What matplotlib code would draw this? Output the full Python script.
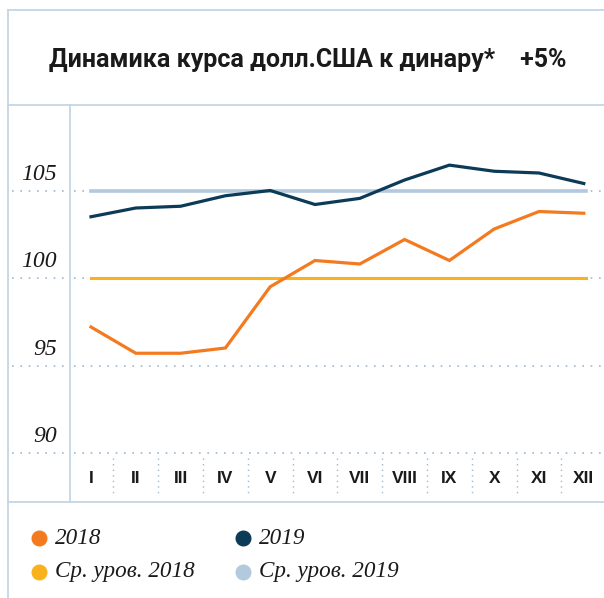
import matplotlib
matplotlib.use("Agg")
import matplotlib.pyplot as plt
from matplotlib.lines import Line2D
import numpy as np

# data
months = ["I", "II", "III", "IV", "V", "VI", "VII", "VIII", "IX", "X", "XI", "XII"]
usd_2018 = [97.2, 95.7, 95.7, 96.0, 99.5, 101.0, 100.8, 102.2, 101.0, 102.8, 103.8, 103.7]
usd_2019 = [103.5, 104.0, 104.1, 104.7, 105.0, 104.2, 104.55, 105.6, 106.45, 106.1, 106.0, 105.4]
avg_2018 = 100.0
avg_2019 = 105.0
y_ticks = [90, 95, 100, 105]
title = "Динамика курса долл.США к динару*    +5%"
legend_labels = ["2018", "2019", "Ср. уров. 2018", "Ср. уров. 2019"]

c_2018 = "#F47A20"
c_2019 = "#0C3B57"
c_avg18 = "#F9B21B"
c_avg19 = "#B3C9DD"
frame = "#C3D5E6"
grid = "#9DB9D3"

W, H = 604, 598
fig = plt.figure(figsize=(W / 100, H / 100), dpi=100)

def fx(px):
    return px / W

def fy(py):
    return 1 - py / H

# plot area: x 8..604, y 105..502 (pixels)
ax = fig.add_axes([fx(8), fy(502), fx(604 - 8), (502 - 105) / H])
x0_px, step = 91, 44.8
ax.set_xlim((8 - x0_px) / step, (604 - x0_px) / step)
ax.set_ylim(100 - (502 - 278) / 17.5, 100 + (278 - 105) / 17.5)
ax.axis("off")

xs = np.arange(len(months))
left_x = (12 - x0_px) / step
gap_l = (66 - x0_px) / step
gap_r = (74 - x0_px) / step
right_x = (604 - x0_px) / step

# dotted gridlines
for t in y_ticks:
    ax.plot([left_x, gap_l], [t, t], color=grid, lw=1.2, ls=(0, (1, 4)), zorder=1)
    ax.plot([gap_r, right_x], [t, t], color=grid, lw=1.2, ls=(0, (1, 4)), zorder=1)
    ax.annotate(str(t), ((57 - x0_px) / step, t), xytext=(0, 4), textcoords="offset points",
                ha="right", va="bottom", fontsize=17, style="italic",
                family="Liberation Serif", color="#1a1a1a")

# month labels and separators
y_lab = 100 - (478 - 278) / 17.5
for i, m in enumerate(months):
    ax.text(i, y_lab, m, ha="center", va="center", fontsize=12.5,
            fontweight="bold", family="Liberation Sans", color="#1a1a1a")
for i in range(len(months) - 1):
    ax.plot([i + 0.5, i + 0.5], [100 - (458 - 278) / 17.5, 100 - (496 - 278) / 17.5],
            color=grid, lw=1.0, ls=(0, (1, 3)), zorder=1)

# average lines
ax.plot([xs[0], xs[-1] + 0.05], [avg_2018, avg_2018], color=c_avg18, lw=2.2, zorder=2)
ax.plot([xs[0], xs[-1] + 0.05], [avg_2019, avg_2019], color=c_avg19, lw=2.6, zorder=2)

# series
ax.plot(xs, usd_2018, color=c_2018, lw=2.3, zorder=3, solid_joinstyle="miter")
ax.plot(xs, usd_2019, color=c_2019, lw=2.3, zorder=3, solid_joinstyle="miter")

# frame lines
def fline(x1, y1, x2, y2):
    fig.add_artist(Line2D([fx(x1), fx(x2)], [fy(y1), fy(y2)], color=frame, lw=1.3))

fline(8, 10, 604, 10)
fline(8, 10, 8, 598)
fline(8, 105, 604, 105)
fline(8, 502, 604, 502)
fline(70, 105, 70, 502)

fig.text(fx(308), fy(60), title, ha="center", va="center", fontsize=18,
         fontweight="bold", family="Roboto", color="#1a1a1a")

# legend
leg_colors = [c_2018, c_2019, c_avg18, c_avg19]
leg_pos = [(39, 538), (243, 538), (39, 572), (243, 572)]
for lab, col, (px, py) in zip(legend_labels, leg_colors, leg_pos):
    fig.add_artist(Line2D([fx(px)], [fy(py)], marker="o", markersize=10.5,
                          markerfacecolor=col, markeredgecolor=col, lw=0))
    fig.text(fx(px + 16), fy(py), lab, ha="left", va="center", fontsize=16.7,
             style="italic", family="Liberation Serif", color="#1a1a1a")

fig.savefig("out.png", dpi=100)
